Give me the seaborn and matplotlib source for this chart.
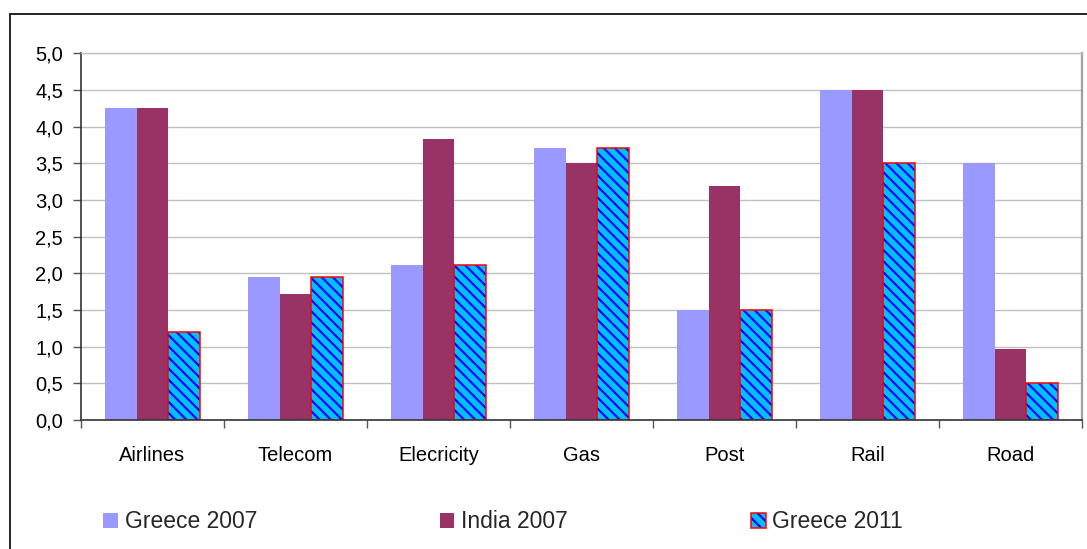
import matplotlib
matplotlib.use("Agg")
import matplotlib.pyplot as plt
from matplotlib.patches import Rectangle, Patch
from matplotlib.ticker import FixedLocator, FuncFormatter
import pandas as pd
import seaborn as sns

# Chart data
categories = ["Airlines", "Telecom", "Elecricity", "Gas", "Post", "Rail", "Road"]
greece_2007 = [4.25, 1.95, 2.12, 3.71, 1.50, 4.50, 3.50]
india_2007 = [4.25, 1.72, 3.83, 3.50, 3.19, 4.50, 0.97]
greece_2011 = [1.20, 1.95, 2.12, 3.71, 1.50, 3.50, 0.50]
series_names = ["Greece 2007", "India 2007", "Greece 2011"]
y_ticks = [0.0, 0.5, 1.0, 1.5, 2.0, 2.5, 3.0, 3.5, 4.0, 4.5, 5.0]

# Styling
c_greece07 = "#9999FF"
c_india07 = "#993366"
c_hatch_bg = "#00BFFF"
c_hatch_fg = "#0000FF"
c_hatch_edge = "#FF0000"
grid_col = "#C0C0C0"

sns.set_theme(style="white")
plt.rcParams["font.family"] = ["Liberation Sans", "DejaVu Sans"]
plt.rcParams["hatch.linewidth"] = 1.5

df = pd.DataFrame({
    "category": categories * 3,
    "value": greece_2007 + india_2007 + greece_2011,
    "series": [series_names[0]] * len(categories)
              + [series_names[1]] * len(categories)
              + [series_names[2]] * len(categories),
})

fig = plt.figure(figsize=(10.87, 5.49), dpi=100)
ax = fig.add_axes([81 / 1087, 1 - 420 / 549, (1082 - 81) / 1087, (420 - 53.3) / 549])

sns.barplot(
    data=df, x="category", y="value", hue="series", order=categories,
    hue_order=series_names,
    palette=[c_greece07, c_india07, c_hatch_bg],
    saturation=1, width=0.67, legend=False, ax=ax, linewidth=0,
    errorbar=None,
)

# Patterned third series with a red outline
for bar in ax.containers[2]:
    bar.set_hatch("\\\\\\")
    bar.set_edgecolor(c_hatch_fg)
    bar.set_linewidth(0)
    ax.add_patch(Rectangle(bar.get_xy(), bar.get_width(), bar.get_height(),
                           fill=False, edgecolor=c_hatch_edge, linewidth=1.1,
                           zorder=bar.get_zorder() + 0.1))

# Axes
ax.set_ylim(0, 5)
ax.set_xlim(-0.5, len(categories) - 0.5)
ax.yaxis.set_major_locator(FixedLocator(y_ticks))
ax.yaxis.set_major_formatter(FuncFormatter(lambda v, p: f"{v:.1f}".replace(".", ",")))
ax.grid(axis="y", color=grid_col, linewidth=1.0)
ax.set_axisbelow(True)
ax.set_xlabel("")
ax.set_ylabel("")

ax.xaxis.set_minor_locator(FixedLocator([i - 0.5 for i in range(len(categories) + 1)]))
ax.tick_params(axis="x", which="major", length=0, pad=19, labelsize=14.5, colors="black")
ax.tick_params(axis="x", which="minor", length=6, width=1, color="#555555", direction="out", bottom=True)
ax.tick_params(axis="y", which="major", length=6, width=1, color="#555555", direction="out",
               left=True, pad=7, labelsize=14.5, labelcolor="black")

for side in ("left", "bottom"):
    ax.spines[side].set_color("#333333")
    ax.spines[side].set_linewidth(1.2)
ax.spines["top"].set_color(grid_col)
ax.spines["top"].set_linewidth(1.0)
ax.spines["right"].set_color("#A0A0A0")
ax.spines["right"].set_linewidth(1.6)

# Legend along the bottom
handles = [
    Patch(facecolor=c_greece07, edgecolor="none"),
    Patch(facecolor=c_india07, edgecolor="none"),
    (Patch(facecolor=c_hatch_bg, edgecolor=c_hatch_fg, hatch="\\\\\\", linewidth=0),
     Patch(facecolor="none", edgecolor=c_hatch_edge, linewidth=1.1)),
]
fig.legend(handles, series_names, loc="center left", bbox_to_anchor=(92 / 1087, 1 - 522 / 549),
           ncol=3, frameon=False, fontsize=16.5, borderpad=0, handlelength=0.62,
           handleheight=0.62, handletextpad=0.3, columnspacing=8.0)

# Outer chart frame
fig.patches.append(Rectangle((10 / 1087, -0.2), 1.2, 1.2 - 14 / 549, transform=fig.transFigure,
                             fill=False, edgecolor="black", linewidth=1.2))

fig.savefig("out.png", dpi=100)
